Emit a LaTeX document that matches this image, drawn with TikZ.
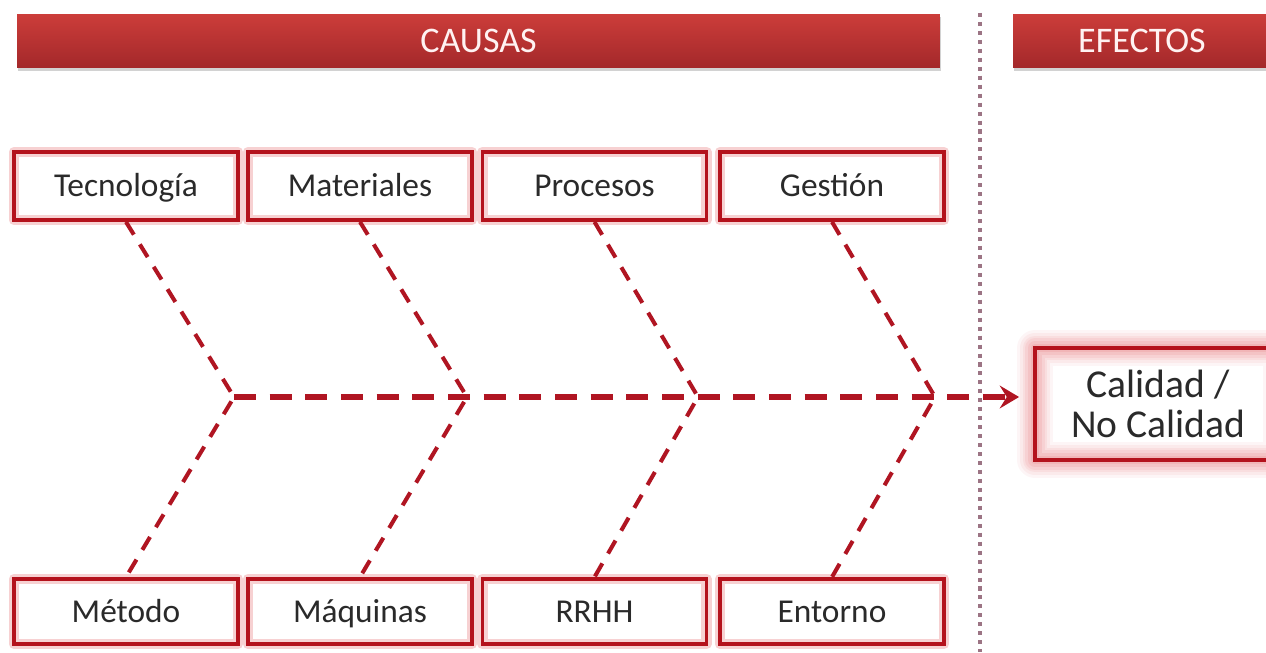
\documentclass[tikz,border=0pt]{standalone}
\usepackage{fontspec}
\setmainfont{Carlito}
\usetikzlibrary{arrows.meta}
\usetikzlibrary{shadows}

\definecolor{barTop}{HTML}{CC3D3A}
\definecolor{barBot}{HTML}{A3282A}
\definecolor{boxRed}{HTML}{B4121C}
\definecolor{glowRed}{HTML}{EC8C90}
\definecolor{dashRed}{HTML}{B01522}
\definecolor{sepGray}{HTML}{9C7484}
\definecolor{txtGray}{HTML}{2A2A2A}

\tikzset{
  header/.style={minimum height=1.08cm, inner sep=0pt,
    top color=barTop, bottom color=barBot, text=white!95!red,
    drop shadow={shadow xshift=0.8pt, shadow yshift=-1.6pt, opacity=.35},
    font=\fontsize{20.5}{24}\selectfont},
  cause/.style={draw=boxRed, line width=2.2pt, inner sep=0pt,
    minimum width=4.48cm, minimum height=1.36cm,
    text height=16pt, text depth=3.8pt,
    preaction={fill=white},
    preaction={draw=glowRed, line width=6pt, opacity=.4, line join=round},
    text=txtGray, font=\fontsize{19}{22}\selectfont},
  effect/.style={draw=boxRed, line width=2.2pt, inner sep=0pt,
    minimum width=4.92cm, minimum height=2.24cm, align=center,
    preaction={fill=white},
    preaction={draw=glowRed, line width=20pt, opacity=.08, line join=round},
    preaction={draw=glowRed, line width=17pt, opacity=.1, line join=round},
    preaction={draw=glowRed, line width=14pt, opacity=.12, line join=round},
    preaction={draw=glowRed, line width=11pt, opacity=.15, line join=round},
    preaction={draw=glowRed, line width=8pt, opacity=.2, line join=round},
    preaction={draw=glowRed, line width=5pt, opacity=.25, line join=round},
    text=txtGray, font=\fontsize{22.5}{23}\selectfont},
  bone/.style={draw=dashRed, line width=2.3pt, dash pattern=on 8.5pt off 6.5pt},
  spine/.style={draw=dashRed, line width=3.4pt, dash pattern=on 12.5pt off 7.8pt,
    -{Stealth[length=11pt,width=13pt,inset=4pt]}, shorten >=8pt},
  separator/.style={draw=sepGray, line width=2.3pt, dash pattern=on 2.3pt off 2.8pt}
}

\begin{document}
\begin{tikzpicture}[x=0.02cm, y=-0.02cm]
  \fill[white] (0,0) rectangle (1266,652);
  \useasboundingbox (0,0) rectangle (1266,652);

  % Header bars
  \node[header, minimum width=18.46cm] (causas) at (478.5,41) {CAUSAS};
  \node[header, minimum width=5.16cm] (efectos) at (1142,41) {EFECTOS};

  % Cause boxes
  \node[cause] (tecnologia) at (126,186) {Tecnología};
  \node[cause] (materiales) at (360,186) {Materiales};
  \node[cause] (procesos) at (594.5,186) {Procesos};
  \node[cause] (gestion) at (832,186) {Gestión};
  \node[cause, minimum height=1.3cm] (metodo) at (126,611.5) {Método};
  \node[cause, minimum height=1.3cm] (maquinas) at (360,611.5) {Máquinas};
  \node[cause, minimum height=1.3cm] (rrhh) at (594.5,611.5) {RRHH};
  \node[cause, minimum height=1.3cm] (entorno) at (832,611.5) {Entorno};

  % Effect box
  \node[effect] (calidad) at (1158,404) {Calidad /\\No Calidad};

  % Spine junctions
  \coordinate (j1) at (234,397);
  \coordinate (j2) at (467,397);
  \coordinate (j3) at (698,397);
  \coordinate (j4) at (935,397);

  % Bones
  \draw[bone] (tecnologia.south) -- (j1) -- (metodo.north);
  \draw[bone] (materiales.south) -- (j2) -- (maquinas.north);
  \draw[bone] (procesos.south) -- (j3) -- (rrhh.north);
  \draw[bone] (gestion.south) -- (j4) -- (entorno.north);

  % Spine
  \draw[spine] (j1) -- (j1 -| calidad.west);

  % Separator
  \coordinate (sepTop) at (980,13);
  \coordinate (sepBot) at (980,652);
  \draw[separator] (sepTop) -- (sepBot);
\end{tikzpicture}
\end{document}
